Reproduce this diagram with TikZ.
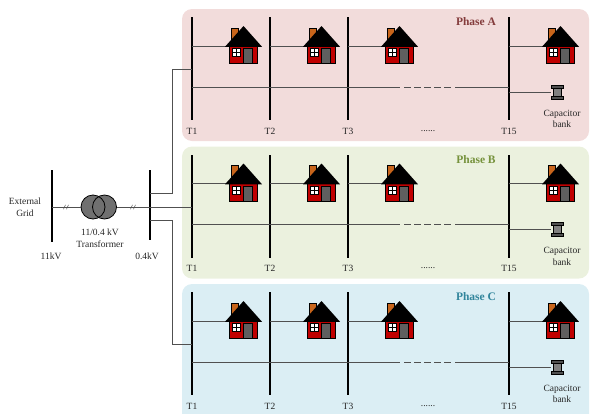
\documentclass[tikz,border=0pt]{standalone}
\usepackage{fontspec}
\setmainfont{Liberation Serif}
\usetikzlibrary{calc}

\definecolor{panelA}{HTML}{F2DCDB}
\definecolor{panelB}{HTML}{EBF1DE}
\definecolor{panelC}{HTML}{DBEEF4}
\definecolor{titleA}{HTML}{843C3C}
\definecolor{titleB}{HTML}{76923C}
\definecolor{titleC}{HTML}{31859C}
\definecolor{wiregray}{HTML}{505050}
\definecolor{labelgray}{HTML}{262626}
\definecolor{coilgray}{HTML}{707070}
\definecolor{housered}{HTML}{C00000}
\definecolor{chimney}{HTML}{C8651B}
\definecolor{doorgray}{HTML}{5F5F5F}
\definecolor{capdark}{HTML}{505050}
\definecolor{capmid}{HTML}{808080}

\begin{document}
\begin{tikzpicture}[x=1pt, y=-1pt,
  wire/.style={draw=wiregray, line width=0.7pt},
  busbar/.style={rectangle, fill=black, draw=none, inner sep=0pt, minimum width=2.4pt},
  lbl/.style={font=\fontsize{9.5}{11.5}\selectfont, text=labelgray, inner sep=0pt, align=center},
  phasetitle/.style={font=\fontsize{11.5}{13}\selectfont\bfseries, inner sep=0pt},
  coil/.style={circle, fill=coilgray, draw=none, minimum size=24pt, inner sep=0pt},
  pics/homeicon/.style={code={
    \draw[line width=0.5pt, fill=chimney] (-12.5,0) rectangle (-5.5,-18);
    \draw[line width=0.6pt, fill=housered] (-14,0) rectangle (14,17.5);
    \fill[black] (-18.5,0.8) -- (0,-20) -- (18.5,0.8) -- cycle;
    \draw[line width=0.5pt, fill=white] (-11,2.5) rectangle (-3,10.5);
    \draw[line width=0.8pt] (-7,2.5) -- (-7,10.5) (-11,6.5) -- (-3,6.5);
    \draw[line width=0.5pt, fill=doorgray] (0,2.5) rectangle (9,17.5);
  }},
  pics/capbank/.style={code={
    \draw[line width=0.5pt, fill=capdark] (-6,-7) rectangle (6,-4);
    \draw[line width=0.5pt, fill=capmid] (-4,-4) rectangle (4,4);
    \draw[line width=0.5pt, fill=capdark] (-6,4) rectangle (6,7);
  }},
  pics/breakmark/.style={code={
    \draw[wiregray, line width=0.5pt] (-2.5,2.2) -- (-0.5,-2.2) (0.5,2.2) -- (2.5,-2.2);
  }}
]
\useasboundingbox (0,0) rectangle (591,413);
\clip (0,0) rectangle (591,413);

% ---------- three phase feeders ----------
\foreach \p/\dy/\pfill/\ptitle/\pbot in
  {A/0/panelA/titleA/141, B/137.5/panelB/titleB/141, C/275/panelC/titleC/150}{
  \begin{scope}[yshift=-\dy pt]
    \fill[\pfill, rounded corners=10pt] (182,9) rectangle (589,\pbot);

    % bus bars of the feeder
    \foreach \i/\x in {1/192, 2/270, 3/348, 15/509}
      \node[busbar, minimum height=103pt] (\p-bus\i) at (\x,68.5) {};

    % service lines to the houses
    \foreach \i in {1,2,3,15}{
      \coordinate (\p-home\i) at ($(\p-bus\i)+(37.5,-22.5)$);
      \draw[wire] (\p-bus\i.center |- \p-home\i) -- (\p-home\i);
    }

    % main feeder line with the omitted section
    \coordinate (\p-gapL) at (400,87);
    \coordinate (\p-gapR) at (455,87);
    \draw[wire] (\p-bus1.center |- \p-gapL) -- (\p-gapL);
    \draw[wire, dash pattern=on 7pt off 3pt] ($(\p-gapL)+(4,0)$) -- ($(\p-gapR)+(-4,0)$);
    \draw[wire] (\p-gapR) -- (\p-bus15.center |- \p-gapR);

    % capacitor bank at the feeder end
    \coordinate (\p-cap) at (551,92);
    \draw[wire] (\p-bus15.center |- \p-cap) -- (\p-cap);
    \pic at (557,92) {capbank};
    \node[lbl] (\p-caplbl) at (562,119) {Capacitor\\bank};

    % houses
    \foreach \i in {1,2,3,15}
      \pic at ($(\p-bus\i)+(51.5,-22.5)$) {homeicon};

    % labels
    \foreach \i in {1,2,3,15}
      \node[lbl] (\p-t\i) at ($(\p-bus\i.south)+(0,11)$) {T\i};
    \node[lbl] (\p-dots) at (428,131) {......};
    \node[phasetitle, text=\ptitle] (\p-title) at (476,22) {Phase \p};
  \end{scope}
}

% ---------- source side ----------
\node[lbl] (grid) at (25,207) {External\\Grid};
\node[busbar, minimum height=72pt] (hv) at (52,206) {};
\node[busbar, minimum height=70pt] (lv) at (150,205) {};

\node[coil] (tr1) at (93,207) {};
\node[coil] (tr2) at (104.5,207) {};
\draw[line width=0.8pt] (tr1.center) circle[radius=12];
\draw[line width=0.8pt] (tr2.center) circle[radius=12];

\draw[wire] (hv.center |- tr1) -- (tr1.west);
\draw[wire] (tr2.east) -- (lv.center |- tr2);
\pic at (66,207) {breakmark};
\pic at (133,207) {breakmark};

\node[lbl] (trlbl) at (100,238) {11/0.4 kV\\Transformer};
\node[lbl] (hvlbl) at (51,256) {11kV};
\node[lbl] (lvlbl) at (147,256) {0.4kV};

% feeders from the 0.4 kV bus to the three phases
\coordinate (lvA) at (150,193);
\coordinate (lvC) at (150,220);
\coordinate (jA) at (172,69);
\coordinate (jC) at (172,344);
\draw[wire] (lv.center |- tr2) -- (B-bus1.center |- tr2);
\draw[wire] (lvA) -| (jA) -- (A-bus1.center |- jA);
\draw[wire] (lvC) -| (jC) -- (C-bus1.center |- jC);
\end{tikzpicture}
\end{document}
